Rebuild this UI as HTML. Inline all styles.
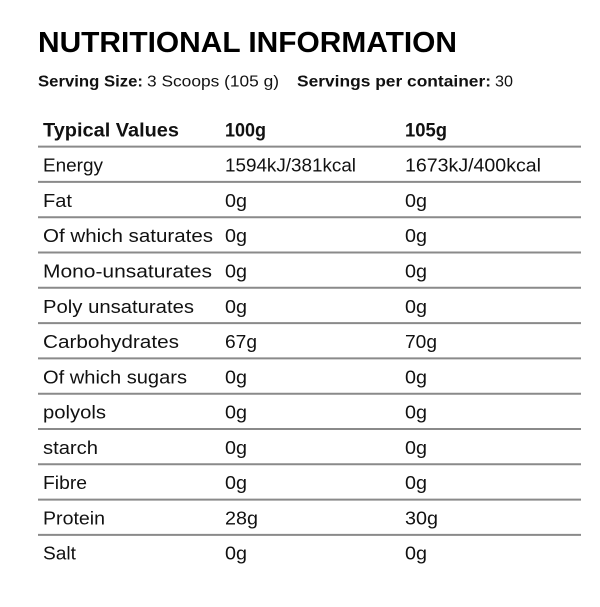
<!DOCTYPE html>
<html><head><meta charset="utf-8"><style>
html,body{margin:0;padding:0;background:#fff;}
svg{display:block;}
text{font-family:"Liberation Sans",Arial,sans-serif;fill:#111;}
.b{font-weight:bold;}
</style></head><body>
<svg width="600" height="607" viewBox="0 0 600 607" xmlns="http://www.w3.org/2000/svg">
<rect width="600" height="607" fill="#fff"/>
<text x="38" y="52" class="b" font-size="29" textLength="419" lengthAdjust="spacingAndGlyphs" style="fill:#000">NUTRITIONAL INFORMATION</text>
<text x="38" y="86.5" class="b" font-size="16" textLength="105" lengthAdjust="spacingAndGlyphs">Serving Size:</text>
<text x="147" y="86.5" font-size="16" textLength="132" lengthAdjust="spacingAndGlyphs">3 Scoops (105 g)</text>
<text x="297" y="86.5" class="b" font-size="16" textLength="194" lengthAdjust="spacingAndGlyphs">Servings per container:</text>
<text x="495" y="86.5" font-size="16" textLength="18" lengthAdjust="spacingAndGlyphs">30</text>

<text x="43" y="136.3" class="b" font-size="19" textLength="136" lengthAdjust="spacingAndGlyphs">Typical Values</text>
<text x="225" y="136.3" class="b" font-size="19" textLength="41" lengthAdjust="spacingAndGlyphs">100g</text>
<text x="405" y="136.3" class="b" font-size="19" textLength="42" lengthAdjust="spacingAndGlyphs">105g</text>

<g stroke="#8a8a8a" stroke-width="2">
<line x1="38" x2="581" y1="146.6" y2="146.6"/>
<line x1="38" x2="581" y1="181.9" y2="181.9"/>
<line x1="38" x2="581" y1="217.2" y2="217.2"/>
<line x1="38" x2="581" y1="252.5" y2="252.5"/>
<line x1="38" x2="581" y1="287.8" y2="287.8"/>
<line x1="38" x2="581" y1="323.1" y2="323.1"/>
<line x1="38" x2="581" y1="358.4" y2="358.4"/>
<line x1="38" x2="581" y1="393.7" y2="393.7"/>
<line x1="38" x2="581" y1="429" y2="429"/>
<line x1="38" x2="581" y1="464.3" y2="464.3"/>
<line x1="38" x2="581" y1="499.6" y2="499.6"/>
<line x1="38" x2="581" y1="534.9" y2="534.9"/>
</g>

<g font-size="18">
<text x="43" y="171.7" textLength="60" lengthAdjust="spacingAndGlyphs">Energy</text>
<text x="225" y="171.7" textLength="131" lengthAdjust="spacingAndGlyphs">1594kJ/381kcal</text>
<text x="405" y="171.7" textLength="136" lengthAdjust="spacingAndGlyphs">1673kJ/400kcal</text>

<text x="43" y="207" textLength="29" lengthAdjust="spacingAndGlyphs">Fat</text>
<text x="225" y="207" textLength="22" lengthAdjust="spacingAndGlyphs">0g</text>
<text x="405" y="207" textLength="22" lengthAdjust="spacingAndGlyphs">0g</text>

<text x="43" y="242.2" textLength="170" lengthAdjust="spacingAndGlyphs">Of which saturates</text>
<text x="225" y="242.2" textLength="22" lengthAdjust="spacingAndGlyphs">0g</text>
<text x="405" y="242.2" textLength="22" lengthAdjust="spacingAndGlyphs">0g</text>

<text x="43" y="277.5" textLength="169" lengthAdjust="spacingAndGlyphs">Mono-unsaturates</text>
<text x="225" y="277.5" textLength="22" lengthAdjust="spacingAndGlyphs">0g</text>
<text x="405" y="277.5" textLength="22" lengthAdjust="spacingAndGlyphs">0g</text>

<text x="43" y="312.8" textLength="151" lengthAdjust="spacingAndGlyphs">Poly unsaturates</text>
<text x="225" y="312.8" textLength="22" lengthAdjust="spacingAndGlyphs">0g</text>
<text x="405" y="312.8" textLength="22" lengthAdjust="spacingAndGlyphs">0g</text>

<text x="43" y="348" textLength="136" lengthAdjust="spacingAndGlyphs">Carbohydrates</text>
<text x="225" y="348" textLength="32" lengthAdjust="spacingAndGlyphs">67g</text>
<text x="405" y="348" textLength="32" lengthAdjust="spacingAndGlyphs">70g</text>

<text x="43" y="383.3" textLength="144" lengthAdjust="spacingAndGlyphs">Of which sugars</text>
<text x="225" y="383.3" textLength="22" lengthAdjust="spacingAndGlyphs">0g</text>
<text x="405" y="383.3" textLength="22" lengthAdjust="spacingAndGlyphs">0g</text>

<text x="43" y="418.6" textLength="63" lengthAdjust="spacingAndGlyphs">polyols</text>
<text x="225" y="418.6" textLength="22" lengthAdjust="spacingAndGlyphs">0g</text>
<text x="405" y="418.6" textLength="22" lengthAdjust="spacingAndGlyphs">0g</text>

<text x="43" y="453.9" textLength="55" lengthAdjust="spacingAndGlyphs">starch</text>
<text x="225" y="453.9" textLength="22" lengthAdjust="spacingAndGlyphs">0g</text>
<text x="405" y="453.9" textLength="22" lengthAdjust="spacingAndGlyphs">0g</text>

<text x="43" y="489.1" textLength="44" lengthAdjust="spacingAndGlyphs">Fibre</text>
<text x="225" y="489.1" textLength="22" lengthAdjust="spacingAndGlyphs">0g</text>
<text x="405" y="489.1" textLength="22" lengthAdjust="spacingAndGlyphs">0g</text>

<text x="43" y="524.4" textLength="62" lengthAdjust="spacingAndGlyphs">Protein</text>
<text x="225" y="524.4" textLength="33" lengthAdjust="spacingAndGlyphs">28g</text>
<text x="405" y="524.4" textLength="33" lengthAdjust="spacingAndGlyphs">30g</text>

<text x="43" y="559.7" textLength="33" lengthAdjust="spacingAndGlyphs">Salt</text>
<text x="225" y="559.7" textLength="22" lengthAdjust="spacingAndGlyphs">0g</text>
<text x="405" y="559.7" textLength="22" lengthAdjust="spacingAndGlyphs">0g</text>
</g>
</svg>
</body></html>
